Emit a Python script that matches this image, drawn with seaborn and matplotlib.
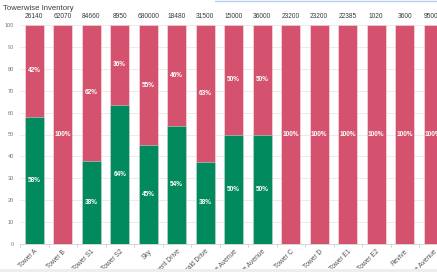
import math
import matplotlib
matplotlib.use("Agg")
import matplotlib.pyplot as plt
import seaborn as sns
import pandas as pd
from matplotlib.patches import Rectangle
from matplotlib.lines import Line2D

towers = ["Tower A", "Tower B", "Tower S1", "Tower S2", "Sky", "Monument Drive",
          "Emerald Drive", "Maple Grove Avenue", "Pine Grove Avenue", "Tower C",
          "Tower D", "Tower E1", "Tower E2", "Revive", "Willow Lane Avenue"]
green_pct = [58, 0, 38, 63.6, 45, 54, 37.5, 50, 50, 0, 0, 0, 0, 0, 0]
red_pct = [42, 100, 62, 36.4, 55, 46, 62.5, 50, 50, 100, 100, 100, 100, 100, 100]
totals = [26140, 62070, 84660, 8950, 680000, 18480, 31500, 15000, 36000,
          23200, 23200, 22385, 1020, 3600, 95000]
yticks = [0, 10, 20, 30, 40, 50, 60, 70, 80, 90, 100]

RED = "#d4526e"
GREEN = "#008a5e"

sns.set_theme(style="white")
plt.rcParams['font.family'] = ['Liberation Sans', 'DejaVu Sans']

df = pd.DataFrame({"tower": towers, "green": green_pct, "red": red_pct})
df["stack"] = df["green"] + df["red"]

W, H = 437, 272
fig = plt.figure(figsize=(W / 100, H / 100), dpi=100)
left, right, bottom, top = 20, 447.5, 244, 25
ax = fig.add_axes([left / W, 1 - bottom / H, (right - left) / W, (bottom - top) / H])

sns.barplot(data=df, x="tower", y="stack", color=RED, width=0.67, ax=ax,
            saturation=1, edgecolor=(1, 1, 1, 0.45), linewidth=0.6)
sns.barplot(data=df, x="tower", y="green", color=GREEN, width=0.67, ax=ax,
            saturation=1, edgecolor=(1, 1, 1, 0.45), linewidth=0.6)

ax.set_xlim(-0.5, len(towers) - 0.5)
ax.set_ylim(0, 100)
ax.set_yticks(yticks)
ax.set_yticklabels([str(v) for v in yticks], fontsize=4.0, color="#777777")
ax.tick_params(axis="y", length=0, pad=4.5)
ax.set_axisbelow(True)
ax.yaxis.grid(True, color="#e8e8e8", linewidth=0.6)
ax.set_xlabel("")
ax.set_ylabel("")
for s in ["top", "right", "left"]:
    ax.spines[s].set_visible(False)
ax.spines["bottom"].set_color("#d0d0d0")
ax.spines["bottom"].set_linewidth(0.6)

ax.set_xticks(range(len(towers)))
ax.set_xticklabels(towers, rotation=45, ha="right", rotation_mode="anchor",
                   fontsize=4.8, color="#555555")
ax.tick_params(axis="x", length=0, pad=3)
for i in range(len(towers) + 1):
    ax.plot([i - 0.5, i - 0.5], [0, -1.3], color="#d0d0d0", lw=0.6, clip_on=False)


def rnd(v):
    return int(math.floor(v + 0.5))


for i, (g, r, t) in enumerate(zip(green_pct, red_pct, totals)):
    if g > 0:
        ax.text(i, g / 2, f"{rnd(g)}%", ha="center", va="center", fontsize=4.7,
                color="white", fontweight="bold")
    if r > 0:
        ax.text(i, g + r / 2, f"{rnd(r)}%", ha="center", va="center", fontsize=4.7,
                color="white", fontweight="bold")
    ax.text(i, 100 + 3.7, str(t), ha="center", va="center", fontsize=4.8,
            color="#373d3f", clip_on=False)

fig.text(3 / W, 1 - 8.5 / H, "Towerwise Inventory", ha="left", va="center",
         fontsize=5.6, color="#373d3f")

fig.add_artist(Line2D([215 / W, 1], [1 - 0.5 / H, 1 - 0.5 / H], color="#b3d0f5",
                      lw=1.0, transform=fig.transFigure))
fig.add_artist(Rectangle((0, 0), 1, 3.5 / H, transform=fig.transFigure,
                         facecolor="#eeeeee", edgecolor="none", zorder=10))

fig.savefig("out.png", dpi=100)
